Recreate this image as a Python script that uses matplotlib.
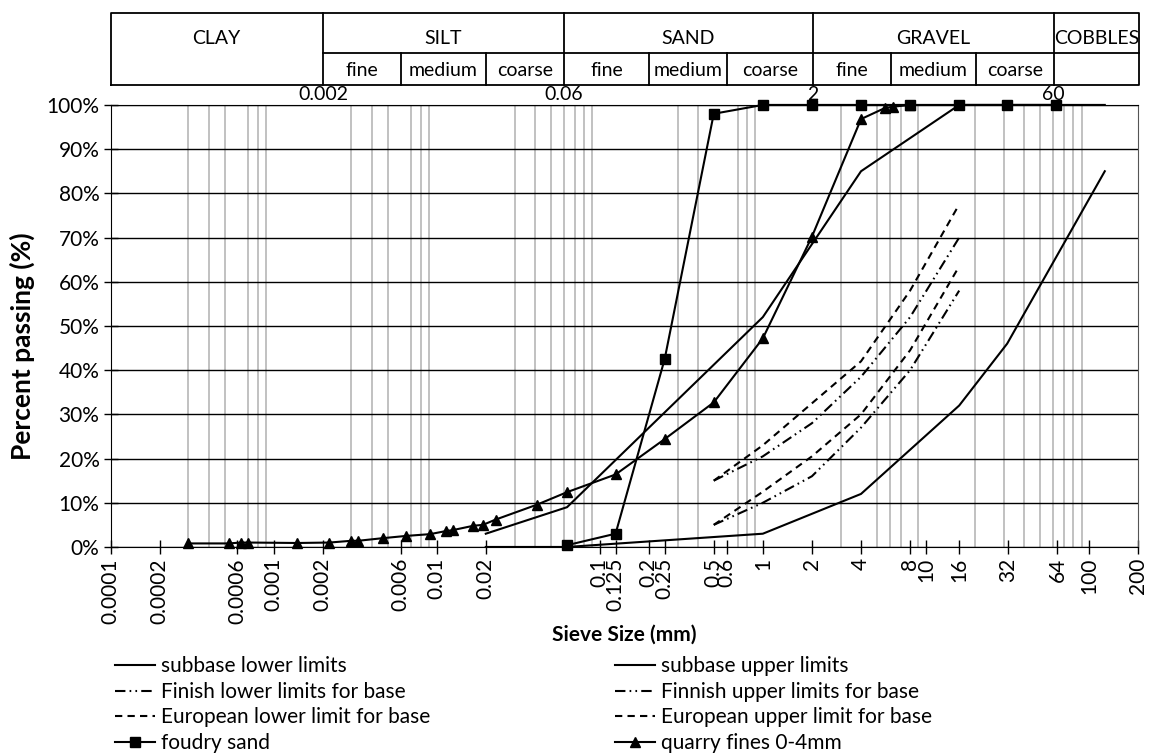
import matplotlib
matplotlib.use("Agg")
import matplotlib.pyplot as plt
import numpy as np
from matplotlib.ticker import FixedLocator, LogLocator, NullFormatter

plt.rcParams['font.family'] = ['Lato', 'DejaVu Sans']

# sieve sizes (mm) and percent passing
subbase_low_x = [0.02, 0.063, 1, 4, 16, 125]
subbase_low_y = [3, 9, 52, 85, 100, 100]
subbase_up_x = [0.02, 0.063, 1, 4, 16, 31.5, 125]
subbase_up_y = [0, 0, 3, 12, 32, 46, 85]

finnish_low_x = [0.5, 1, 2, 4, 8, 16]
finnish_low_y = [5, 10, 16, 27, 40, 58]
finnish_up_x = [0.5, 1, 2, 4, 8, 16]
finnish_up_y = [15, 20.5, 28, 38.5, 52, 70]

euro_low_x = [0.5, 1, 2, 4, 8, 16]
euro_low_y = [5, 12.5, 20.5, 30, 44.5, 63.5]
euro_up_x = [0.5, 1, 2, 4, 8, 16]
euro_up_y = [15, 23, 32.5, 42, 58, 77.5]

foundry_x = [0.063, 0.125, 0.25, 0.5, 1, 2, 4, 8, 16, 31.5, 63]
foundry_y = [0.4, 3, 42.5, 98, 100, 100, 100, 100, 100, 100, 100]

quarry_x = [0.0003, 0.00053, 0.00063, 0.0007, 0.0014, 0.0022, 0.003, 0.0033,
            0.0047, 0.0065, 0.0091, 0.0114, 0.0125, 0.0168, 0.0192, 0.023,
            0.0414, 0.063, 0.125, 0.25, 0.5, 1, 2, 4, 5.6, 6.3, 8]
quarry_y = [0.8, 0.8, 1.0, 1.0, 0.9, 1.0, 1.4, 1.4, 2.0, 2.5, 2.9, 3.6, 3.8,
            4.8, 5.0, 6.2, 9.6, 12.4, 16.4, 24.4, 32.7, 47.2, 70.2, 96.8,
            99.3, 99.6, 100]

x_ticks = [0.0001, 0.0002, 0.0006, 0.001, 0.002, 0.006, 0.01, 0.02, 0.1, 0.125,
           0.2, 0.25, 0.5, 0.6, 1, 2, 4, 8, 10, 16, 32, 64, 100, 200]
x_tick_labels = ['0.0001', '0.0002', '0.0006', '0.001', '0.002', '0.006', '0.01',
                 '0.02', '0.1', '0.125', '0.2', '0.25', '0.5', '0.6', '1', '2', '4',
                 '8', '10', '16', '32', '64', '100', '200']
y_ticks = [0, 10, 20, 30, 40, 50, 60, 70, 80, 90, 100]

# soil classification table above the chart
main_bounds = [0.0001, 0.002, 0.06, 2, 60, 200]
main_names = ['CLAY', 'SILT', 'SAND', 'GRAVEL', 'COBBLES']
sub_bounds = [0.002, 0.006, 0.02, 0.06, 0.2, 0.6, 2, 6, 20, 60]
sub_names = ['fine', 'medium', 'coarse'] * 3
top_marks = [0.002, 0.06, 2, 60]
top_mark_labels = ['0.002', '0.06', '2', '60']

XMIN, XMAX = 0.0001, 200

fig = plt.figure(figsize=(11.54, 7.56), dpi=100)
ax = fig.add_axes([0.0958, 0.2765, 0.8904, 0.5847])
ax.set_xscale('log')
ax.set_xlim(XMIN, XMAX)
ax.set_ylim(0, 100)

# grid: grey verticals at every log subdivision, black horizontals
ax.xaxis.set_minor_locator(LogLocator(base=10, subs=np.arange(1, 10), numticks=100))
ax.xaxis.set_minor_formatter(NullFormatter())
ax.grid(which='minor', axis='x', color='#b0b0b0', lw=1.1)
ax.grid(which='major', axis='x', visible=False)
ax.grid(which='major', axis='y', color='black', lw=1.0)
ax.set_axisbelow(True)

ax.xaxis.set_major_locator(FixedLocator(x_ticks))
ax.set_xticklabels(x_tick_labels, rotation=90, fontsize=15)
ax.set_yticks(y_ticks)
ax.set_yticklabels([f"{v}%" for v in y_ticks], fontsize=15)
ax.tick_params(axis='x', which='minor', length=0)
ax.tick_params(axis='both', which='major', direction='inout', length=10, width=1, pad=3)

for s in ['left', 'bottom']:
    ax.spines[s].set_color('black')
ax.spines['right'].set_color('#555555')
ax.spines['top'].set_color('black')

ax.set_xlabel('Sieve Size (mm)', fontsize=15, fontweight='bold', labelpad=1)
ax.set_ylabel('Percent passing (%)', fontsize=19, fontweight='bold')
ax.yaxis.set_label_coords(-0.074, 0.455)

fin = (0, (5, 2, 0.8, 2, 0.8, 2))
eur = (0, (3.5, 2.5))
l1, = ax.plot(subbase_low_x, subbase_low_y, color='black', lw=1.5, label='subbase lower limits')
l2, = ax.plot(subbase_up_x, subbase_up_y, color='black', lw=1.5, label='subbase upper limits')
l3, = ax.plot(finnish_low_x, finnish_low_y, color='black', lw=1.5, ls=fin, label='Finish lower limits for base')
l4, = ax.plot(finnish_up_x, finnish_up_y, color='black', lw=1.5, ls=fin, label='Finnish upper limits for base')
l5, = ax.plot(euro_low_x, euro_low_y, color='black', lw=1.5, ls=eur, label='European lower limit for base')
l6, = ax.plot(euro_up_x, euro_up_y, color='black', lw=1.5, ls=eur, label='European upper limit for base')
l7, = ax.plot(foundry_x, foundry_y, color='black', lw=1.5, marker='s', ms=7, label='foudry sand')
l8, = ax.plot(quarry_x, quarry_y, color='black', lw=1.5, marker='^', ms=7, label='quarry fines 0-4mm')
for ln in [l1, l2, l3, l4, l5, l6, l7, l8]:
    ln.set_clip_on(False)

# table
tax = fig.add_axes([0.0958, 0.8876, 0.8913, 0.0952])
tax.set_xscale('log')
tax.set_xlim(XMIN, XMAX)
tax.set_ylim(0, 1)
tax.axis('off')
kw = dict(color='black', lw=1.3, clip_on=False)
tax.plot([XMIN, XMAX, XMAX, XMIN, XMIN], [0, 0, 1, 1, 0], **kw)
for b in main_bounds[1:-1]:
    tax.plot([b, b], [0, 1], **kw)
tax.plot([main_bounds[1], XMAX], [0.45, 0.45], **kw)
for b in sub_bounds[1:-1]:
    if b not in main_bounds:
        tax.plot([b, b], [0, 0.45], **kw)
for i, name in enumerate(main_names):
    xc = np.sqrt(main_bounds[i] * main_bounds[i + 1])
    tax.text(xc, 0.65, name, ha='center', va='center', fontsize=14)
for i, name in enumerate(sub_names):
    xc = np.sqrt(sub_bounds[i] * sub_bounds[i + 1])
    tax.text(xc, 0.2, name, ha='center', va='center', fontsize=14)
for v, lab in zip(top_marks, top_mark_labels):
    tax.text(v, -0.13, lab, ha='center', va='center', fontsize=14)

# legend in two columns below the chart
leg_kw = dict(frameon=False, fontsize=15, handlelength=1.9, handletextpad=0.3,
              labelspacing=0.27, borderpad=0, borderaxespad=0, loc='upper left')
fig.legend(handles=[l1, l3, l5, l7], bbox_to_anchor=(0.0997, 0.132), **leg_kw)
fig.legend(handles=[l2, l4, l6, l8], bbox_to_anchor=(0.533, 0.132), **leg_kw)

fig.savefig('out.png', dpi=100)
